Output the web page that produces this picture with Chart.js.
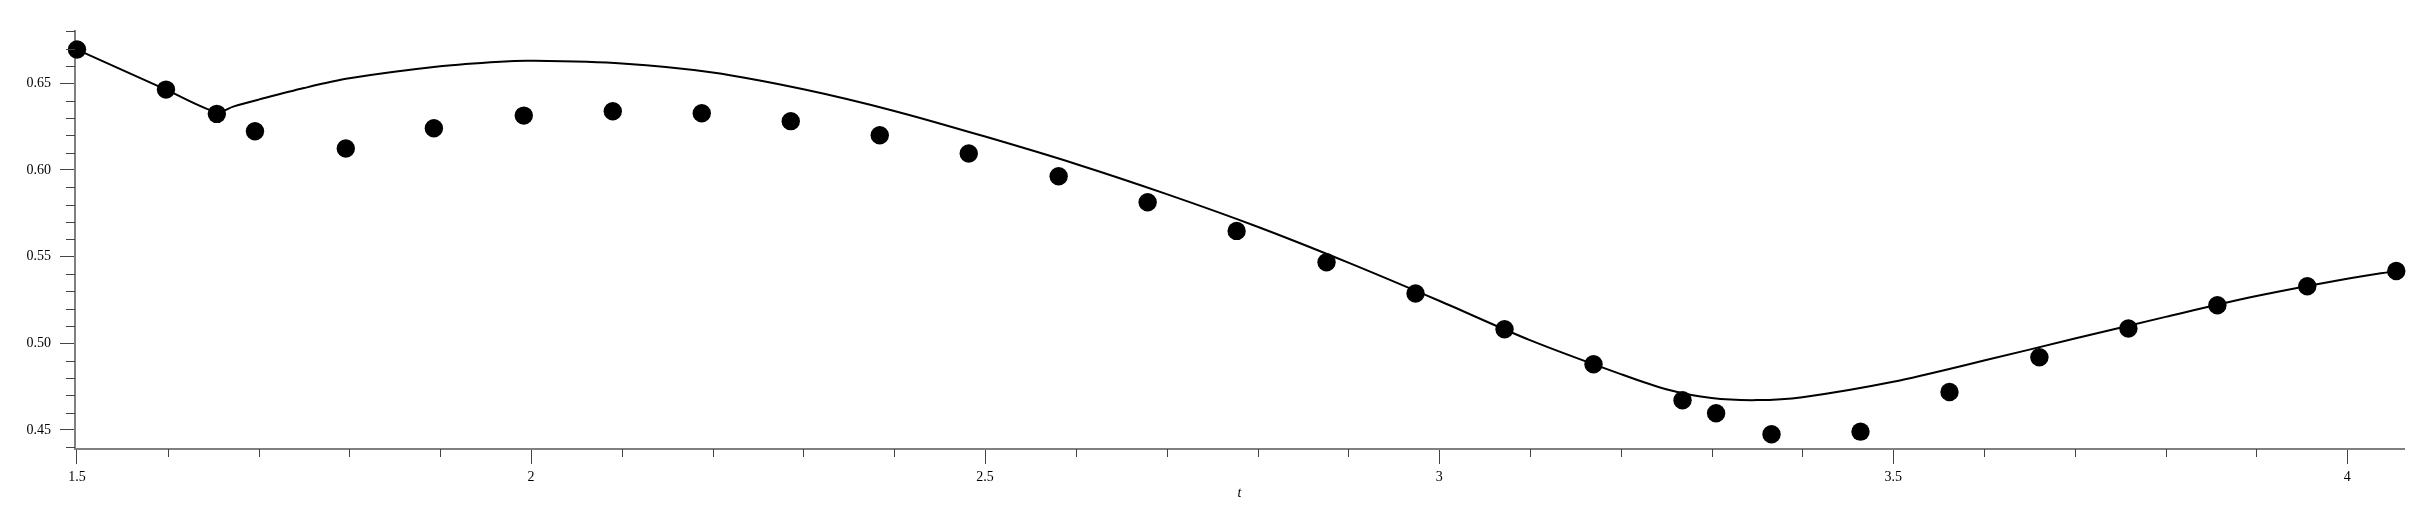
<!doctype html>
<html lang="en">
  <head>
    <meta charset="utf-8">
    <title>Fit vs data</title>
    <script src="https://cdn.jsdelivr.net/npm/chart.js"></script>
    <style>
      body {
        margin: 0;
        background: #fff;
      }
      #wrap {
        width: 2425px;
        height: 514px;
      }
    </style>
  </head>
  <body>
    <div id="wrap"><canvas id="fitChart"></canvas></div>

    <script>
      // measured points (dots)
      const dataT = [1.5, 1.598, 1.654, 1.696, 1.796, 1.893, 1.992, 2.090, 2.188, 2.286,
                     2.384, 2.482, 2.581, 2.679, 2.777, 2.876, 2.974, 3.072, 3.170, 3.268,
                     3.305, 3.366, 3.464, 3.562, 3.661, 3.759, 3.857, 3.956, 4.054];
      const dataY = [0.6694, 0.6463, 0.6323, 0.6223, 0.6123, 0.6240, 0.6313, 0.6338, 0.6327, 0.6281,
                     0.6200, 0.6094, 0.5963, 0.5813, 0.5648, 0.5467, 0.5287, 0.5081, 0.4879, 0.4671,
                     0.4596, 0.4475, 0.4490, 0.4719, 0.4919, 0.5085, 0.5219, 0.5329, 0.5417];

      // model curve (solid line)
      const fitT = [1.5, 1.598, 1.654, 1.672, 1.7, 1.75, 1.8, 1.9, 1.966, 2.0,
                    2.1, 2.2, 2.3, 2.4, 2.5, 2.6, 2.7, 2.8, 2.9, 3.0,
                    3.1, 3.2, 3.25, 3.3, 3.35, 3.4, 3.5, 3.6, 3.7, 3.8,
                    3.9, 4.0, 4.054];
      const fitY = [0.6694, 0.6463, 0.6333, 0.6365, 0.6405, 0.6472, 0.6528, 0.6597, 0.6624, 0.6629,
                    0.6614, 0.6562, 0.6465, 0.6340, 0.6192, 0.6034, 0.5860, 0.5672, 0.5465, 0.5245,
                    0.5018, 0.4822, 0.4735, 0.4684, 0.4672, 0.4689, 0.4778, 0.4900, 0.5027, 0.5152,
                    0.5272, 0.5372, 0.5417];

      // axis ticks
      const xMajor = 0.5, xMinor = 0.1;
      const yMajor = 0.05, yMinor = 0.01;

      const fontFamily = "'Liberation Serif', 'DejaVu Serif', serif";

      function isMultiple(v, step) {
        const r = v / step;
        return Math.abs(r - Math.round(r)) < 1e-6;
      }

      // short marks for the minor ticks
      const minorTicks = {
        id: 'minorTicks',
        afterDraw(chart) {
          const ctx = chart.ctx;
          const xs = chart.scales.x;
          const ys = chart.scales.y;
          ctx.save();
          ctx.strokeStyle = '#444';
          ctx.lineWidth = 1;
          ctx.beginPath();
          xs.ticks.forEach(t => {
            if (isMultiple(t.value, xMajor)) return;
            const px = Math.round(xs.getPixelForValue(t.value)) + 0.5;
            ctx.moveTo(px, xs.top);
            ctx.lineTo(px, xs.top + 8);
          });
          ys.ticks.forEach(t => {
            if (isMultiple(t.value, yMajor)) return;
            const py = Math.round(ys.getPixelForValue(t.value)) + 0.5;
            ctx.moveTo(ys.right, py);
            ctx.lineTo(ys.right - 9, py);
          });
          ctx.stroke();
          ctx.restore();
        }
      };

      const points = dataT.map((t, i) => ({ x: t, y: dataY[i] }));
      const curve = fitT.map((t, i) => ({ x: t, y: fitY[i] }));

      const ctx = document.getElementById('fitChart').getContext('2d');
      new Chart(ctx, {
        type: 'scatter',
        data: {
          datasets: [
            {
              label: 'fit',
              data: curve,
              showLine: true,
              borderColor: '#000',
              borderWidth: 2,
              pointRadius: 0,
              tension: 0.3,
              clip: false
            },
            {
              label: 'data',
              data: points,
              backgroundColor: '#000',
              borderColor: '#000',
              pointRadius: 9.2,
              pointBorderWidth: 0,
              clip: false
            }
          ]
        },
        options: {
          responsive: true,
          maintainAspectRatio: false,
          animation: false,
          layout: {
            padding: { top: 31, right: 21, left: 0, bottom: 0 }
          },
          plugins: {
            legend: { display: false },
            tooltip: { enabled: false }
          },
          scales: {
            x: {
              type: 'linear',
              min: 1.4978,
              max: 4.0625,
              afterFit: s => { s.height = 65; },
              border: { display: true, color: '#808080', width: 2 },
              grid: {
                drawOnChartArea: false,
                drawTicks: true,
                tickLength: 15,
                lineWidth: 1,
                color: c => (c.tick && isMultiple(c.tick.value, xMajor)) ? '#444' : 'rgba(0,0,0,0)'
              },
              ticks: {
                stepSize: xMinor,
                maxTicksLimit: 1000,
                autoSkip: false,
                includeBounds: false,
                maxRotation: 0,
                padding: 5,
                color: '#000',
                font: { family: fontFamily, size: 14 },
                callback: v => isMultiple(v, xMajor) ? String(Math.round(v * 10) / 10) : ''
              },
              title: {
                display: true,
                text: 't',
                color: '#000',
                font: { family: fontFamily, size: 14, style: 'italic' },
                padding: { top: 0, bottom: 12 }
              }
            },
            y: {
              type: 'linear',
              min: 0.4390,
              max: 0.6801,
              afterFit: s => { s.width = 75; },
              border: { display: true, color: '#808080', width: 2 },
              grid: {
                drawOnChartArea: false,
                drawTicks: true,
                tickLength: 15,
                lineWidth: 1,
                color: c => (c.tick && isMultiple(c.tick.value, yMajor)) ? '#444' : 'rgba(0,0,0,0)'
              },
              ticks: {
                stepSize: yMinor,
                maxTicksLimit: 1000,
                autoSkip: false,
                includeBounds: false,
                padding: 9,
                color: '#000',
                font: { family: fontFamily, size: 14 },
                callback: v => isMultiple(v, yMajor) ? v.toFixed(2) : ''
              }
            }
          }
        },
        plugins: [minorTicks]
      });
    </script>
  </body>
</html>
